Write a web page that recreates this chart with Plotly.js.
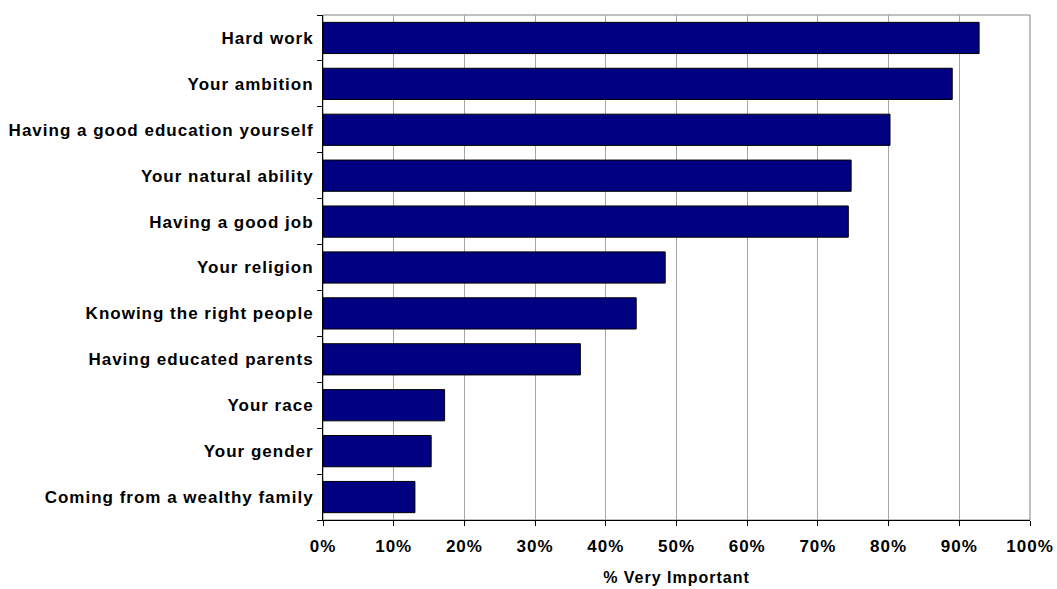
<!DOCTYPE html>
<html>
<head>
<meta charset="utf-8">
<script src="https://cdn.plot.ly/plotly-3.0.1.min.js"></script>
<style>
html,body{margin:0;padding:0;background:#fff;}
#chart{width:1057px;height:589px;}
#chart .ytick text, #chart .g-xtitle text, #chart .xtick text { letter-spacing: 1px; }
</style>
</head>
<body>
<div id="chart"></div>
<script>
const categories = [
  "Hard work",
  "Your ambition",
  "Having a good education yourself",
  "Your natural ability",
  "Having a good job",
  "Your religion",
  "Knowing the right people",
  "Having educated parents",
  "Your race",
  "Your gender",
  "Coming from a wealthy family"
];
const veryImportant = [0.928, 0.890, 0.802, 0.747, 0.743, 0.484, 0.443, 0.364, 0.172, 0.153, 0.130];
const xTickVals = [0, 0.1, 0.2, 0.3, 0.4, 0.5, 0.6, 0.7, 0.8, 0.9, 1.0];
const xTickText = ["0%", "10%", "20%", "30%", "40%", "50%", "60%", "70%", "80%", "90%", "100%"];

const font = "Liberation Sans, Arial, sans-serif";

const trace = {
  type: "bar",
  orientation: "h",
  x: veryImportant,
  y: categories,
  marker: { color: "#000080", line: { color: "#000000", width: 1 } },
  hoverinfo: "x+y"
};

const layout = {
  width: 1057,
  height: 589,
  margin: { l: 323, r: 27, t: 15, b: 69 },
  paper_bgcolor: "#ffffff",
  plot_bgcolor: "#ffffff",
  showlegend: false,
  bargap: 0.32,
  font: { family: font, color: "#000000" },
  xaxis: {
    range: [0, 1],
    tickvals: xTickVals,
    ticktext: xTickText,
    tickfont: { family: font, size: 17, color: "#000000", weight: "bold" },
    showgrid: true,
    gridcolor: "#a6a6a6",
    gridwidth: 1,
    zeroline: false,
    showline: true,
    linecolor: "#000000",
    linewidth: 1,
    ticks: "outside",
    ticklen: 5,
    tickcolor: "#000000",
    ticklabelstandoff: 6,
    fixedrange: true,
    title: { text: "% Very Important", font: { family: font, size: 16, color: "#000000", weight: "bold" }, standoff: 16 }
  },
  yaxis: {
    categoryorder: "array",
    categoryarray: categories.slice().reverse(),
    tickfont: { family: font, size: 17, color: "#000000", weight: "bold" },
    showgrid: false,
    zeroline: false,
    showline: true,
    linecolor: "#000000",
    linewidth: 1,
    ticks: "outside",
    tickson: "boundaries",
    ticklen: 5,
    tickcolor: "#000000",
    ticklabelstandoff: 5,
    fixedrange: true
  },
  shapes: [
    { type: "rect", xref: "paper", yref: "paper", x0: 0, x1: 1, y0: 0, y1: 1,
      line: { color: "#808080", width: 1 }, layer: "below" }
  ]
};

Plotly.newPlot("chart", [trace], layout, { displayModeBar: false, staticPlot: true });
</script>
</body>
</html>
